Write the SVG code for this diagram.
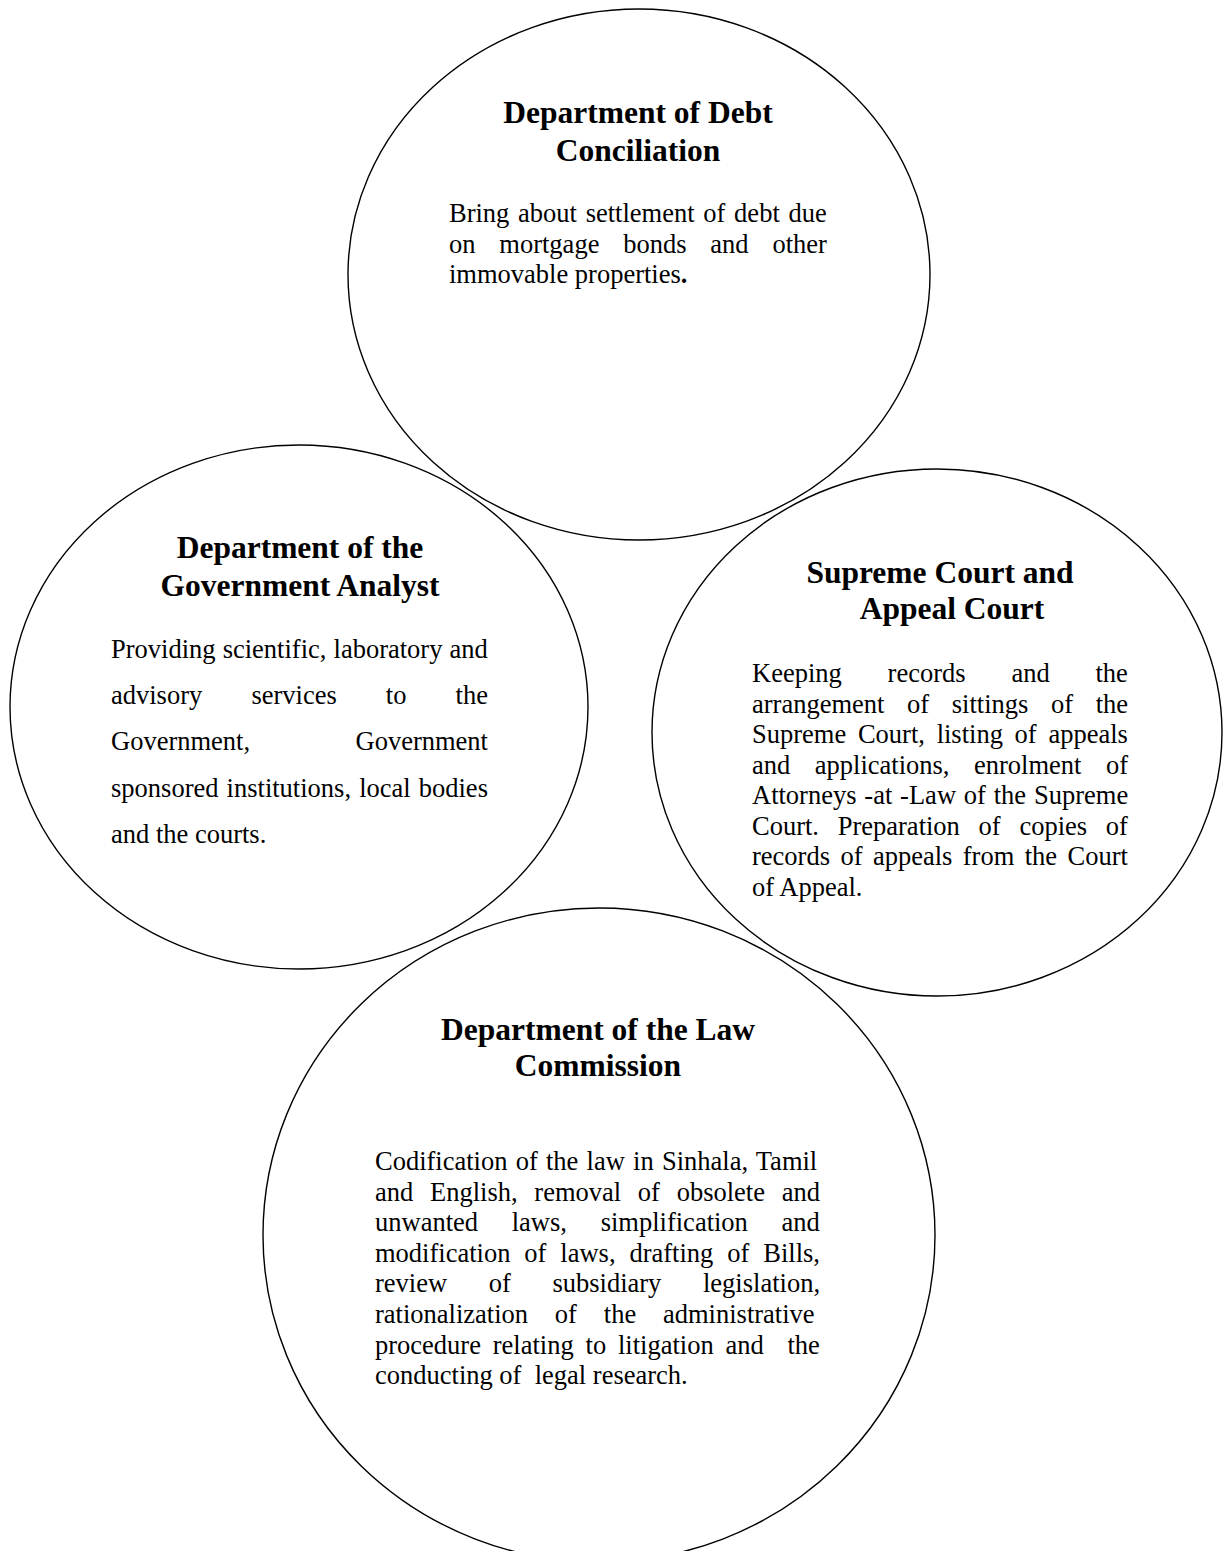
<svg xmlns="http://www.w3.org/2000/svg" width="1224" height="1551" viewBox="0 0 1224 1551">
<style>
.shape{fill:none;stroke:#000;stroke-width:1.4}
.h{font-family:"Liberation Serif","Times New Roman",serif;font-weight:bold;font-size:31.5px;text-anchor:middle;fill:#000}
.b{font-family:"Liberation Serif","Times New Roman",serif;font-size:26.5px;fill:#000;white-space:pre}
</style>
<rect width="1224" height="1551" fill="#fff"/>
<g id="debt-conciliation">
<ellipse class="shape" cx="639" cy="274.5" rx="291" ry="265.5"/>
<text class="h" x="638" y="123">Department of Debt</text>
<text class="h" x="638" y="161">Conciliation</text>
<text class="b" x="449" y="222" style="word-spacing:2.1px">Bring about settlement of debt due</text>
<text class="b" x="449" y="252.5" style="word-spacing:17.2px">on mortgage bonds and other</text>
<text class="b" x="449" y="283">immovable properties<tspan font-weight="bold">.</tspan></text>
</g>
<g id="government-analyst">
<ellipse class="shape" cx="299" cy="707" rx="289" ry="262"/>
<text class="h" x="300" y="558">Department of the</text>
<text class="h" x="300" y="596">Government Analyst</text>
<text class="b" x="111" y="658" style="word-spacing:0.5px">Providing scientific, laboratory and</text>
<text class="b" x="111" y="704" style="word-spacing:42.5px">advisory services to the</text>
<text class="b" x="111" y="750" style="word-spacing:98.8px">Government, Government</text>
<text class="b" x="111" y="796.5" style="word-spacing:1.5px">sponsored institutions, local bodies</text>
<text class="b" x="111" y="843">and the courts.</text>
</g>
<g id="supreme-court">
<ellipse class="shape" cx="937" cy="732.5" rx="285" ry="263.5"/>
<text class="h" x="940" y="583">Supreme Court and</text>
<text class="h" x="952" y="619">Appeal Court</text>
<text class="b" x="752" y="682" style="word-spacing:39.2px">Keeping records and the</text>
<text class="b" x="752" y="712.5" style="word-spacing:16px">arrangement of sittings of the</text>
<text class="b" x="752" y="743" style="word-spacing:5.1px">Supreme Court, listing of appeals</text>
<text class="b" x="752" y="773.5" style="word-spacing:17.9px">and applications, enrolment of</text>
<text class="b" x="752" y="804" style="word-spacing:1.2px">Attorneys -at -Law of the Supreme</text>
<text class="b" x="752" y="834.5" style="word-spacing:12.1px">Court. Preparation of copies of</text>
<text class="b" x="752" y="865" style="word-spacing:3.8px">records of appeals from the Court</text>
<text class="b" x="752" y="895.5">of Appeal.</text>
</g>
<g id="law-commission">
<ellipse class="shape" cx="599" cy="1235" rx="336" ry="327"/>
<text class="h" x="598" y="1040">Department of the Law</text>
<text class="h" x="598" y="1076">Commission</text>
<text class="b" x="375" y="1170" style="word-spacing:1.6px">Codification of the law in Sinhala, Tamil</text>
<text class="b" x="375" y="1200.6" style="word-spacing:10.1px">and English, removal of obsolete and</text>
<text class="b" x="375" y="1231.2" style="word-spacing:27.1px">unwanted laws, simplification and</text>
<text class="b" x="375" y="1261.8" style="word-spacing:7.3px">modification of laws, drafting of Bills,</text>
<text class="b" x="375" y="1292.4" style="word-spacing:35px">review of subsidiary legislation,</text>
<text class="b" x="375" y="1323" style="word-spacing:20.2px">rationalization of the administrative</text>
<text class="b" x="375" y="1353.6" style="word-spacing:5.2px">procedure relating to litigation and  the</text>
<text class="b" x="375" y="1384.2">conducting of  legal research.</text>
</g>
</svg>
